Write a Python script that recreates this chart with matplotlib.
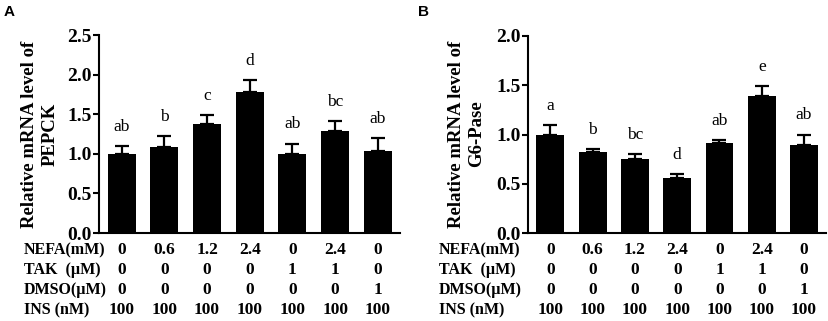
import numpy as np
import matplotlib
matplotlib.use("Agg")
import matplotlib.pyplot as plt
import matplotlib.transforms as mtrans

plt.rcParams['font.family'] = ['Liberation Serif', 'DejaVu Serif']

# bar values
pepck = [1.00, 1.08, 1.37, 1.78, 1.00, 1.29, 1.03]
pepck_err = [0.10, 0.14, 0.12, 0.15, 0.13, 0.12, 0.17]
pepck_sig = ['ab', 'b', 'c', 'd', 'ab', 'bc', 'ab']

g6pase = [1.00, 0.82, 0.75, 0.56, 0.91, 1.39, 0.89]
g6pase_err = [0.10, 0.03, 0.05, 0.04, 0.03, 0.10, 0.11]
g6pase_sig = ['a', 'b', 'bc', 'd', 'ab', 'e', 'ab']

# treatment table under the bars
row_names = ['NEFA(mM)', 'TAK  (\u00b5M)', 'DMSO(\u00b5M)', 'INS (nM)']
nefa = ['0', '0.6', '1.2', '2.4', '0', '2.4', '0']
tak = ['0', '0', '0', '0', '1', '1', '0']
dmso = ['0', '0', '0', '0', '0', '0', '1']
ins = ['100', '100', '100', '100', '100', '100', '100']
rows = [nefa, tak, dmso, ins]

fig = plt.figure(figsize=(8.29, 3.21), dpi=100)

row_y = [1 - 250 / 321, 1 - 270 / 321, 1 - 290 / 321, 1 - 310 / 321]


def panel(rect, vals, errs, sig, ymax, gene, letter, lab_x, ylab_x, tag_x):
    ax = fig.add_axes(rect)
    x = np.arange(len(vals))
    ax.bar(x, vals, width=0.66, color='black', zorder=2)
    ax.errorbar(x, vals, yerr=[np.zeros(len(vals)), errs], fmt='none',
                ecolor='black', elinewidth=1.6, capsize=5, capthick=1.6, zorder=1)
    for i in range(len(vals)):
        ax.annotate(sig[i], (x[i], vals[i] + errs[i]), xytext=(0, 8),
                    textcoords='offset points', ha='center', va='bottom',
                    fontsize=12.5)
    ax.set_xlim(-0.53, 6.52)
    ax.set_ylim(0, ymax)
    ax.set_yticks(np.arange(0, ymax + 0.01, 0.5))
    ax.set_yticklabels(['%.1f' % v for v in np.arange(0, ymax + 0.01, 0.5)],
                       fontsize=14, fontweight='bold')
    ax.set_xticks([])
    for s in ['top', 'right']:
        ax.spines[s].set_visible(False)
    for s in ['left', 'bottom']:
        ax.spines[s].set_linewidth(1.5)
    ax.tick_params(axis='y', width=1.5, length=4, pad=1)

    fig.text(ylab_x, 1 - 134 / 321, 'Relative mRNA level of\n' + gene,
             rotation=90, ha='center', va='center', fontsize=13.5,
             fontweight='bold', linespacing=1.25)
    fig.text(tag_x, 1 - 12 / 321, letter, family='Liberation Sans',
             fontweight='bold', fontsize=11, ha='left', va='center')

    tr = mtrans.blended_transform_factory(ax.transData, fig.transFigure)
    for r in range(len(rows)):
        fig.text(lab_x, row_y[r], row_names[r], ha='left', va='center',
                 fontsize=11.5, fontweight='bold')
        for i in range(len(vals)):
            ax.text(x[i], row_y[r], rows[r][i], transform=tr, ha='center',
                    va='center', fontsize=12.5, fontweight='bold')
    return ax


panel([99 / 829, 88 / 321, 301 / 829, 198 / 321], pepck, pepck_err, pepck_sig,
      2.5, 'PEPCK', 'A', 24 / 829, 40 / 829, 4 / 829)
panel([528 / 829, 88 / 321, 298 / 829, 197 / 321], g6pase, g6pase_err, g6pase_sig,
      2.0, 'G6-Pase', 'B', 439 / 829, 467 / 829, 418 / 829)

fig.savefig('out.png', dpi=100)
